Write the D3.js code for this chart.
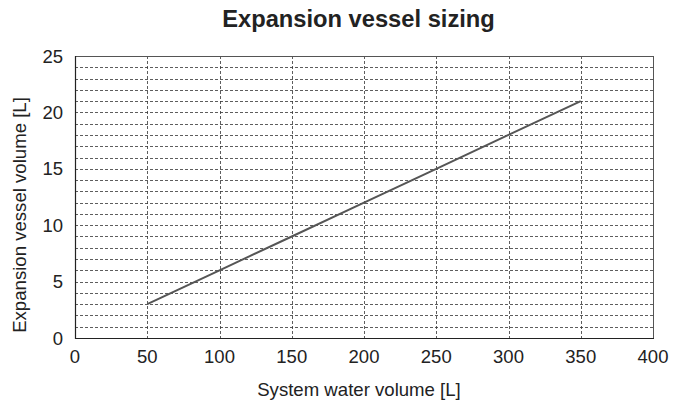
<!doctype html>
<html>
<head>
<meta charset="utf-8">
<title>Expansion vessel sizing</title>
<script src="https://d3js.org/d3.v7.min.js"></script>
<style>
  body { margin: 0; background: #fff; }
  text { font-family: "Liberation Sans", Arial, sans-serif; fill: #222; }
</style>
</head>
<body>
<script>

    // data
    var systemVolume = [50, 100, 150, 200, 250, 300, 350];
    var vesselVolume = [3, 6, 9, 12, 15, 18, 21];
    var xTicks = [0, 50, 100, 150, 200, 250, 300, 350, 400];
    var yTicks = [0, 5, 10, 15, 20, 25];
    var yGrid = d3.range(0, 26, 1);

    var width = 690, height = 404;
    var plotLeft = 75, plotRight = 653, plotTop = 56, plotBottom = 338;

    var svg = d3.select("body").append("svg")
        .attr("width", width)
        .attr("height", height);

    var x = d3.scaleLinear().domain([0, 400]).range([plotLeft, plotRight]);
    var y = d3.scaleLinear().domain([0, 25]).range([plotBottom, plotTop]);

    // horizontal grid, every 1 L
    svg.append("g").selectAll("line")
        .data(yGrid.filter(function(d) { return d > 0 && d < 25; }))
        .enter().append("line")
        .attr("x1", plotLeft)
        .attr("x2", plotRight)
        .attr("y1", function(d) { return Math.round(y(d)) + 0.5; })
        .attr("y2", function(d) { return Math.round(y(d)) + 0.5; })
        .attr("stroke", "#333")
        .attr("stroke-width", 0.8)
        .attr("stroke-dasharray", "3,2");

    // vertical grid
    svg.append("g").selectAll("line")
        .data(xTicks.filter(function(d) { return d > 0 && d < 400; }))
        .enter().append("line")
        .attr("x1", function(d) { return Math.round(x(d)) + 0.5; })
        .attr("x2", function(d) { return Math.round(x(d)) + 0.5; })
        .attr("y1", plotTop)
        .attr("y2", plotBottom)
        .attr("stroke", "#333")
        .attr("stroke-width", 0.8)
        .attr("stroke-dasharray", "3,2");

    // frame
    svg.append("rect")
        .attr("x", plotLeft + 0.5)
        .attr("y", plotTop + 0.5)
        .attr("width", plotRight - plotLeft)
        .attr("height", plotBottom - plotTop)
        .attr("fill", "none")
        .attr("stroke", "#555")
        .attr("stroke-width", 1);

    // axes (left and bottom darker)
    svg.append("line")
        .attr("x1", plotLeft + 0.5).attr("x2", plotLeft + 0.5)
        .attr("y1", plotTop).attr("y2", plotBottom + 1)
        .attr("stroke", "#222").attr("stroke-width", 1.2);
    svg.append("line")
        .attr("x1", plotLeft).attr("x2", plotRight + 1)
        .attr("y1", plotBottom + 0.5).attr("y2", plotBottom + 0.5)
        .attr("stroke", "#222").attr("stroke-width", 1.2);

    // tick labels
    svg.append("g").selectAll("text")
        .data(xTicks)
        .enter().append("text")
        .attr("x", function(d) { return x(d); })
        .attr("y", 363)
        .attr("text-anchor", "middle")
        .attr("font-size", "18.5px")
        .text(function(d) { return d; });

    svg.append("g").selectAll("text")
        .data(yTicks)
        .enter().append("text")
        .attr("x", 63)
        .attr("y", function(d) { return y(d) + 6.5; })
        .attr("text-anchor", "end")
        .attr("font-size", "18.5px")
        .text(function(d) { return d; });

    // the line
    var line = d3.line()
        .x(function(d, i) { return x(systemVolume[i]); })
        .y(function(d) { return y(d); });

    svg.append("path")
        .datum(vesselVolume)
        .attr("d", line)
        .attr("fill", "none")
        .attr("stroke", "#555")
        .attr("stroke-width", 2);

    // titles
    svg.append("text")
        .attr("x", 358.5)
        .attr("y", 27)
        .attr("text-anchor", "middle")
        .attr("font-size", "23.7px")
        .style("font-weight", "bold")
        .text("Expansion vessel sizing");

    svg.append("text")
        .attr("x", 359)
        .attr("y", 396)
        .attr("text-anchor", "middle")
        .attr("font-size", "18.6px")
        .text("System water volume [L]");

    svg.append("text")
        .attr("transform", "translate(26,215) rotate(-90)")
        .attr("text-anchor", "middle")
        .attr("font-size", "18.6px")
        .text("Expansion vessel volume [L]");

</script>
</body>
</html>
